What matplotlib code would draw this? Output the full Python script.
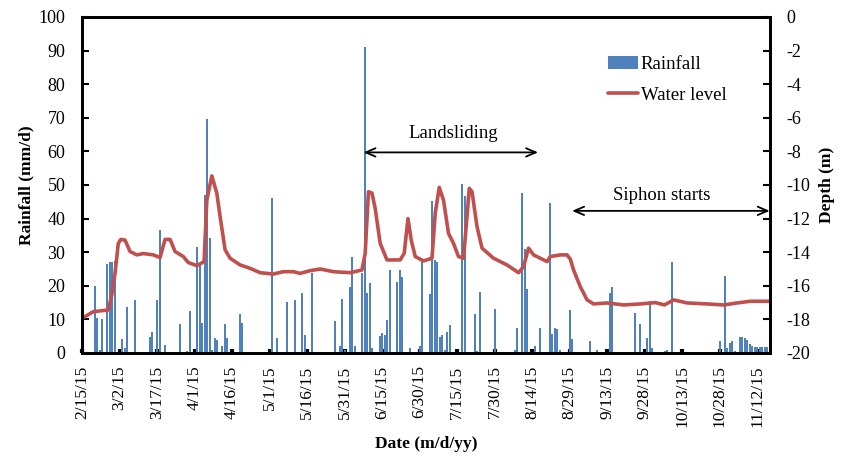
import numpy as np
import matplotlib
matplotlib.use("Agg")
import matplotlib.pyplot as plt

# --- données (jour = nb de jours depuis le 15/02/2015) ---
rain_day = [5, 6, 7, 8, 10, 11, 12, 13, 16, 17, 18, 21, 27, 28, 30, 31, 33,
            39, 42, 43, 46, 47, 48, 49, 50, 51, 52, 53, 54, 56, 57, 58, 63, 64,
            76, 78, 82, 85, 88, 89, 92, 101, 103, 104, 105, 107, 108, 109,
            112, 113, 114, 115, 116, 119, 120, 121, 122, 123, 126, 127, 128,
            131, 135, 136, 139, 140, 141, 142, 143, 144, 145, 146, 147, 152,
            153, 157, 158, 159, 165, 173, 174, 176, 177, 178, 181, 183, 187,
            188, 189, 190, 191, 195, 196, 203, 206, 211, 212, 221, 223, 226,
            227, 228, 232, 233, 234, 236, 255, 257, 258, 259, 260, 261, 263,
            264, 265, 266, 267, 268, 269, 270, 271, 272, 273, 274]
rain_mm = [20.0, 10.3, 1.0, 10.0, 26.5, 27.2, 27.2, 27.3, 4.2, 1.5, 13.8, 15.8,
           4.7, 6.3, 15.8, 36.6, 2.4, 8.6, 0.5, 12.6, 31.6, 26.8, 9.0, 47.0,
           69.6, 34.1, 1.0, 4.5, 3.9, 2.1, 8.6, 4.5, 11.5, 9.0, 46.2, 4.5,
           15.1, 15.9, 17.9, 5.5, 23.9, 9.6, 2.0, 16.0, 1.0, 19.7, 28.7, 2.0,
           23.8, 91.2, 17.9, 20.7, 1.5, 5.0, 6.0, 5.5, 9.8, 24.7, 21.2, 24.7,
           22.7, 1.5, 2.0, 27.0, 17.6, 45.3, 27.7, 27.2, 4.9, 5.4, 1.0, 6.1,
           8.3, 50.2, 46.8, 11.6, 0.5, 18.3, 13.0, 1.0, 7.3, 47.7, 30.9, 19.0,
           2.0, 7.3, 44.5, 5.7, 7.5, 7.2, 0.8, 12.8, 4.2, 3.7, 0.8, 17.8,
           19.5, 12.0, 8.5, 4.4, 15.5, 1.5, 0.4, 0.6, 0.8, 27.2, 3.7, 23.0,
           1.5, 2.9, 3.7, 0.5, 4.7, 4.7, 4.4, 3.9, 2.6, 2.0, 1.9, 1.9, 1.9,
           1.9, 1.9, 1.9]

wl_day = [0, 4.5, 10.5, 11.9, 13.2, 14.5, 15.5, 17.2, 19.2, 21.9, 24.5, 28.5,
          31.2, 33.2, 35.2, 37.2, 40.5, 42.5, 45.9, 48.8, 49.9, 51.9, 53.9,
          55.2, 57.2, 59.2, 63.2, 67.2, 71.2, 76.5, 80.5, 84.5, 87.2, 91.2,
          95.2, 100.5, 107.2, 111.9, 113.2, 114.5, 115.9, 117.2, 119.2, 121.9,
          127.2, 128.8, 130.3, 131.6, 133.2, 136.5, 139.9, 141.2, 142.8, 144.5,
          146.5, 148.5, 150.5, 152.5, 153.9, 154.8, 155.9, 157.9, 159.9, 164.5,
          169.9, 174.5, 176.5, 178.5, 180.5, 183.2, 185.9, 187.2, 191.2, 193.9,
          195.2, 196.5, 199.2, 201.9, 204.5, 209.9, 216.5, 223.2, 229.2, 232.8,
          236.5, 241.9, 249.9, 256.5, 261.9, 267.2, 275.0]
wl_depth = [-17.94, -17.54, -17.44, -16.54, -15.26, -13.48, -13.24, -13.28,
            -13.96, -14.16, -14.08, -14.16, -14.32, -13.24, -13.24, -13.96,
            -14.26, -14.62, -14.80, -14.56, -10.90, -9.46, -10.50, -11.88,
            -13.86, -14.36, -14.76, -14.96, -15.22, -15.30, -15.16, -15.16,
            -15.26, -15.10, -15.00, -15.16, -15.22, -15.06, -14.06, -10.40,
            -10.48, -11.40, -13.48, -14.46, -14.46, -14.06, -12.00, -13.28,
            -14.26, -14.52, -14.36, -11.68, -10.14, -10.90, -12.88, -13.48,
            -14.26, -14.36, -11.88, -10.20, -10.40, -12.48, -13.76, -14.36,
            -14.76, -15.22, -14.86, -13.76, -14.16, -14.36, -14.56, -14.26,
            -14.16, -14.16, -14.42, -15.06, -16.06, -16.84, -17.08, -17.02,
            -17.14, -17.08, -17.00, -17.14, -16.84, -17.02, -17.08, -17.14,
            -17.02, -16.92, -16.92]

tick_days = list(range(0, 271, 15))
tick_labels = ["2/15/15", "3/2/15", "3/17/15", "4/1/15", "4/16/15", "5/1/15",
               "5/16/15", "5/31/15", "6/15/15", "6/30/15", "7/15/15",
               "7/30/15", "8/14/15", "8/29/15", "9/13/15", "9/28/15",
               "10/13/15", "10/28/15", "11/12/15"]

plt.rcParams["font.family"] = ["Liberation Serif", "DejaVu Serif"]
plt.rcParams["axes.unicode_minus"] = False

fig = plt.figure(figsize=(8.56, 4.63), dpi=100)
ax = fig.add_axes([0.0958, 0.2376, 0.8037, 0.7257])
ax2 = ax.twinx()

bars = ax.bar(rain_day, rain_mm, width=0.8, color="#4F81BD", label="Rainfall", zorder=2)
line, = ax2.plot(wl_day, wl_depth, color="#C0504D", lw=2.6, label="Water level",
                 solid_joinstyle="round", solid_capstyle="round")

ax.set_xlim(0, 275)
ax.set_ylim(0, 100)
ax2.set_ylim(-20, 0)
ax.set_yticks(range(0, 101, 10))
ax2.set_yticks(range(-20, 1, 2))
ax.set_xticks(tick_days)
ax.set_xticklabels(tick_labels, rotation=90)

ax.tick_params(axis="y", direction="in", length=5, width=1.5, labelsize=13, pad=12)
ax.tick_params(axis="x", direction="in", length=3, width=3, labelsize=12.5, pad=9)
ax2.tick_params(axis="y", direction="in", length=5, width=1.5, labelsize=13, pad=12)

for a in (ax, ax2):
    for s in a.spines.values():
        s.set_linewidth(2)
        s.set_color("black")

ax.set_ylabel("Rainfall (mm/d)", fontsize=12.5, fontweight="bold", labelpad=3)
ax2.set_ylabel("Depth (m)", fontsize=12.5, fontweight="bold", labelpad=6)
ax.set_xlabel("Date (m/d/yy)", fontsize=12.5, fontweight="bold", labelpad=6)

# annotations
arrow = dict(arrowstyle="<->,head_length=0.7,head_width=0.3", color="black", lw=1.3,
             shrinkA=0, shrinkB=0)
ax.annotate("", xy=(112.5, 59.7), xytext=(182.3, 59.7), arrowprops=arrow)
ax.text(148.5, 65.4, "Landsliding", ha="center", va="center", fontsize=13.5)
ax.annotate("", xy=(195.9, 42.3), xytext=(274.9, 42.3), arrowprops=arrow)
ax.text(231.9, 47, "Siphon starts", ha="center", va="center", fontsize=13.5)

ax.legend([bars, line], ["Rainfall", "Water level"], loc="upper left",
          bbox_to_anchor=(0.74, 0.935), frameon=False, fontsize=13.5,
          handlelength=1.6, handletextpad=0.15, labelspacing=0.75)

fig.savefig("out.png", dpi=100)
